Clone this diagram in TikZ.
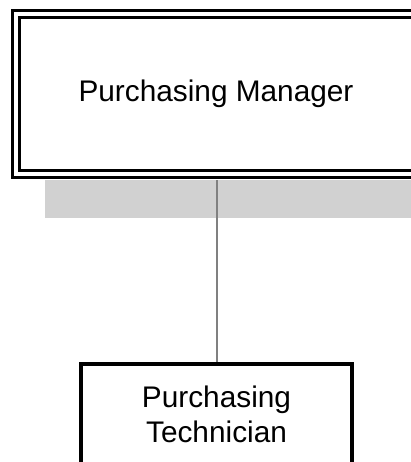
\documentclass[tikz,border=0pt]{standalone}
\usepackage{fontspec}
\setmainfont{Liberation Sans}
\begin{document}
\begin{tikzpicture}[x=1pt,y=1pt,
  orgbox/.style={shape=rectangle,draw=black,font=\fontsize{29.8}{35}\selectfont,align=center},
  link/.style={draw=black!50,line width=2pt}]
\clip (0,0) rectangle (411,-462);
\fill[black!18] (45,-180) rectangle (420,-218);
\node[orgbox,line width=3pt,double,double distance=4pt,minimum width=400pt,minimum height=160pt] (mgr) at (216,-94) {Purchasing Manager};
\node[orgbox,line width=3.5pt,minimum width=271pt,inner ysep=22pt,anchor=north] (tech) at (216.5,-362) {Purchasing\\Technician};

\draw[link,shorten <=5pt] (tech.north |- mgr.south) -- (tech.north);
\end{tikzpicture}
\end{document}
